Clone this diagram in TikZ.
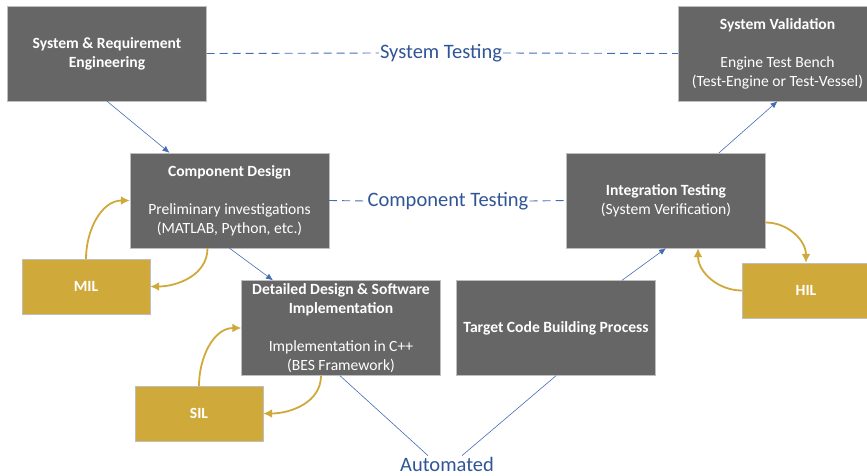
\documentclass[tikz,border=0pt]{standalone}
\usepackage{fontspec}
\setmainfont{Carlito}
\usetikzlibrary{positioning, arrows.meta}

\definecolor{boxgray}{RGB}{102,102,102}
\definecolor{boxedge}{RGB}{190,190,190}
\definecolor{xilgold}{RGB}{208,169,59}
\definecolor{vblue}{RGB}{47,85,151}
\definecolor{lineblue}{RGB}{68,108,180}

\begin{document}
\begin{tikzpicture}[
    x=1pt, y=-1pt,
    box/.style={rectangle, draw=boxedge, fill=boxgray, text=white, minimum width=199pt, minimum height=95pt, align=center, inner sep=0pt, font=\fontsize{15.6}{19}\selectfont},
    xil/.style={rectangle, draw=boxedge, fill=xilgold, text=white, minimum width=128pt, minimum height=55pt, font=\fontsize{15.6}{19}\selectfont\bfseries},
    testlabel/.style={text=vblue, inner sep=1pt, font=\fontsize{20.5}{24}\selectfont},
    arrow/.style={-{Latex[length=7pt, width=6pt]}, draw=lineblue, semithick},
    loopback/.style={-{Latex[length=9pt, width=9pt]}, draw=xilgold, line width=1.8pt},
    testline/.style={draw=lineblue, line width=0.9pt, dash pattern=on 8pt off 5pt}
  ]
    \useasboundingbox (0,0) rectangle (867,475);

    % V-model boxes
    \node[box] (sysreq) at (107,53.5) {\textbf{System \& Requirement}\\\textbf{Engineering}};
    \node[box] (compdesign) at (229.5,200.5) {\textbf{Component Design}\\[19pt]Preliminary investigations\\(MATLAB, Python, etc.)};
    \node[box] (detail) at (341,328) {\textbf{Detailed Design \& Software}\\\textbf{Implementation}\\[19pt]Implementation in C++\\(BES Framework)};
    \node[box] (target) at (556,328) {\textbf{Target Code Building Process}};
    \node[box] (integ) at (666,200.5) {\textbf{Integration Testing}\\(System Verification)};
    \node[box] (sysval) at (777.5,53.5) {\textbf{System Validation}\\[19pt]Engine Test Bench\\(Test-Engine or Test-Vessel)};

    % in-the-loop boxes
    \node[xil] (mil) at (86,286.5) {MIL};
    \node[xil] (sil) at (199,413.5) {SIL};
    \node[xil] (hil) at (806,290.5) {HIL};

    % testing labels
    \node[testlabel] (systest) at (441,53) {System Testing};
    \node[testlabel] (comptest) at (448,201) {Component Testing};
    \node[testlabel] (auto) at (447,464) {Automated};

    % Arrows
    \draw[arrow] (sysreq.south) -- ([xshift=-60pt]compdesign.north);
    \draw[arrow] (compdesign.south) -- ([xshift=-68pt]detail.north);
    \draw[arrow] ([xshift=66pt]target.north) -- (integ.south);
    \draw[arrow] ([xshift=53pt]integ.north) -- (sysval.south);
    \draw[lineblue, semithick] ([xshift=-1pt]detail.south) -- ([xshift=-19pt]auto.north);
    \draw[lineblue, semithick] (target.south) -- ([xshift=15pt]auto.north);

    \draw[testline] (sysreq.east) -- (systest.west);
    \draw[testline] (systest.east) -- (sysval.west);
    \draw[testline] (compdesign.east) -- (comptest.west);
    \draw[testline] (comptest.east) -- (integ.west);

    \draw[loopback] (mil.north) to[out=90, in=180] (compdesign.west);
    \draw[loopback] ([xshift=-22pt]compdesign.south) to[out=-90, in=0] (mil.east);
    \draw[loopback] (sil.north) to[out=90, in=180] (detail.west);
    \draw[loopback] ([xshift=-20pt]detail.south) to[out=-90, in=0] (sil.east);
    \draw[loopback] ([yshift=-22pt]integ.east) to[out=0, in=90] (hil.north);
    \draw[loopback] (hil.west) to[out=180, in=-90] ([xshift=32pt]integ.south);
  \end{tikzpicture}
\end{document}
